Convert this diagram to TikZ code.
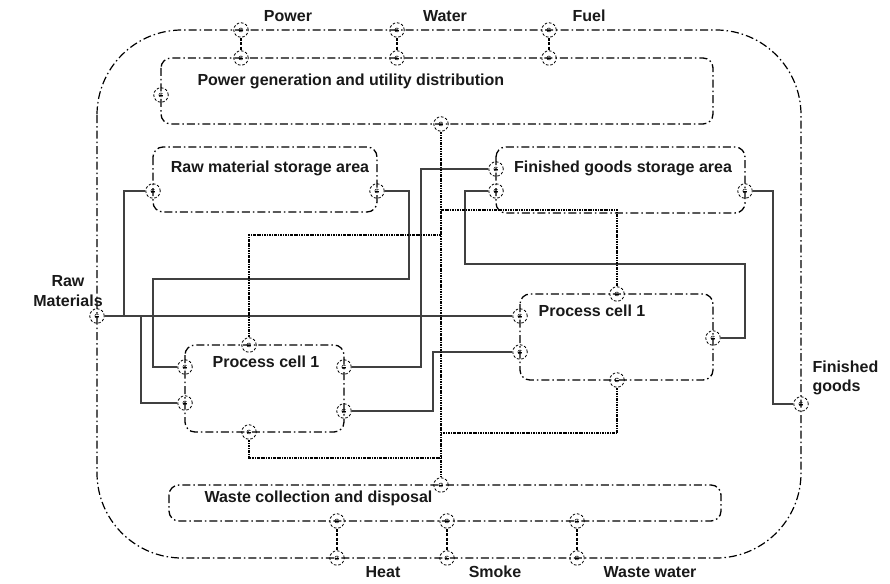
\documentclass[tikz,border=0pt]{standalone}
\usepackage{fontspec}
\setmainfont{Liberation Sans}
\begin{document}
\begin{tikzpicture}[x=1pt,y=-1pt,
  every node/.style={font=\fontsize{16}{19.5}\selectfont\bfseries, text=black!90},
  area/.style={draw=black, line width=1.3pt, rounded corners=10pt,
    dash pattern=on 8pt off 3pt on 1.5pt off 3pt},
  boundary/.style={draw=black, line width=1.2pt, rounded corners=85pt,
    dash pattern=on 8pt off 3pt on 1.5pt off 3pt},
  port/.style={circle, draw=black, line width=0.8pt, dash pattern=on 2.6pt off 1.8pt,
    minimum size=14.5pt, inner sep=0pt,
    path picture={\draw[solid, line width=0.5pt]
      ([shift={(1.4pt,1.3pt)}]path picture bounding box.center)
      arc[start angle=40, end angle=320, radius=2pt];
      \draw[solid, line width=0.5pt]
      ([shift={(-2.2pt,0pt)}]path picture bounding box.center) --
      ([shift={(2.2pt,0pt)}]path picture bounding box.center);}},
  flow/.style={draw=black!75, line width=1.1pt},
  waste/.style={draw=black, line width=1.1pt, dash pattern=on 2.5pt off 1pt on 0.8pt off 1pt},
  utility/.style={draw=black, line width=1.2pt, dash pattern=on 3pt off 1.5pt},
]
\useasboundingbox (0,0) rectangle (890,583);

% plant boundary and the functional areas
\draw[boundary] (97,30) rectangle (801,558);
\draw[area] (161,58) rectangle (713,124);
\draw[area] (153,147) rectangle (377,212);
\draw[area] (496,147) rectangle (745,213);
\draw[area] (185,345) rectangle (344,432);
\draw[area] (520,294) rectangle (713,380);
\draw[area] (169,485) rectangle (721,521);

% area titles
\node[anchor=west] (tpg) at (194,81) {Power generation and utility distribution};
\node (trs) at (270,168) {Raw material storage area};
\node (tfs) at (623,168) {Finished goods storage area};
\node (tc1) at (266,362) {Process cell 1};
\node (tc2) at (592,311) {Process cell 1};
\node[anchor=west] (twc) at (201,498) {Waste collection and disposal};

% external stream labels
\node (lpow) at (288,16) {Power};
\node (lwat) at (445,16) {Water};
\node (lfue) at (589,16) {Fuel};
\node (lhea) at (383,572) {Heat};
\node (lsmo) at (495,572) {Smoke};
\node (lwwa) at (650,572) {Waste water};
\node[align=center] (lraw) at (68,291) {Raw\\Materials};
\node[anchor=west, align=left] (lfin) at (809,378) {Finished\\goods};

% ports on the plant boundary
\node[port] (bp1) at (241,30) {};
\node[port] (bp2) at (397,30) {};
\node[port] (bp3) at (549,30) {};
\node[port] (bh) at (337,558) {};
\node[port] (bs) at (447,558) {};
\node[port] (bw) at (577,558) {};
\node[port] (brm) at (97,316) {};
\node[port] (bfg) at (801,404) {};

% ports of the utility area
\node[port] (pg1) at (241,58) {};
\node[port] (pg2) at (397,58) {};
\node[port] (pg3) at (549,58) {};
\node[port] (pgl) at (161,95) {};
\node[port] (pgb) at (441,124) {};

% ports of the storage areas
\node[port] (rsl) at (153,191) {};
\node[port] (rsr) at (377,191) {};
\node[port] (fsl1) at (496,169) {};
\node[port] (fsl2) at (496,191) {};
\node[port] (fsr) at (745,191) {};

% ports of the left process cell
\node[port] (ct) at (249,345) {};
\node[port] (cl1) at (185,367) {};
\node[port] (cl2) at (185,403) {};
\node[port] (cr1) at (344,367) {};
\node[port] (cr2) at (344,411) {};
\node[port] (cb) at (249,432) {};

% ports of the right process cell
\node[port] (dt) at (617,294) {};
\node[port] (dl1) at (520,316) {};
\node[port] (dl2) at (520,352) {};
\node[port] (dr) at (713,338) {};
\node[port] (db) at (617,380) {};

% ports of the waste area
\node[port] (wt) at (441,485) {};
\node[port] (wb1) at (337,521) {};
\node[port] (wb2) at (447,521) {};
\node[port] (wb3) at (577,521) {};

% junctions
\coordinate (j1) at (124,316);
\coordinate (j2) at (141,316);
\coordinate (k1) at (441,235);
\coordinate (k2) at (441,210);
\coordinate (k3) at (441,458);
\coordinate (k4) at (441,433);

% utilities in and emissions out
\draw[utility] (bp1) -- (pg1);
\draw[utility] (bp2) -- (pg2);
\draw[utility] (bp3) -- (pg3);
\draw[utility] (wb1) -- (bh);
\draw[utility] (wb2) -- (bs);
\draw[utility] (wb3) -- (bw);

% material flows
\draw[flow] (brm.east) -- (dl1.west);
\draw[flow] (j1) |- (rsl.west);
\draw[flow] (j2) |- (cl2.west);
\draw[flow] (rsr.east) -- (409,191) -- (409,279) -- (153,279) |- (cl1.west);
\draw[flow] (cr1.east) -- (421,367) |- (fsl1.west);
\draw[flow] (cr2.east) -- (433,411) |- (dl2.west);
\draw[flow] (fsl2.west) -- (465,191) -- (465,264) -- (745,264) |- (dr.east);
\draw[flow] (fsr.east) -- (773,191) |- (bfg.west);

% utility distribution and waste collection network
\draw[waste] (pgb.south) -- (wt.north);
\draw[waste] (k1) -| (ct.north);
\draw[waste] (k2) -| (dt.north);
\draw[waste] (cb.south) |- (k3);
\draw[waste] (db.south) |- (k4);
\end{tikzpicture}
\end{document}
